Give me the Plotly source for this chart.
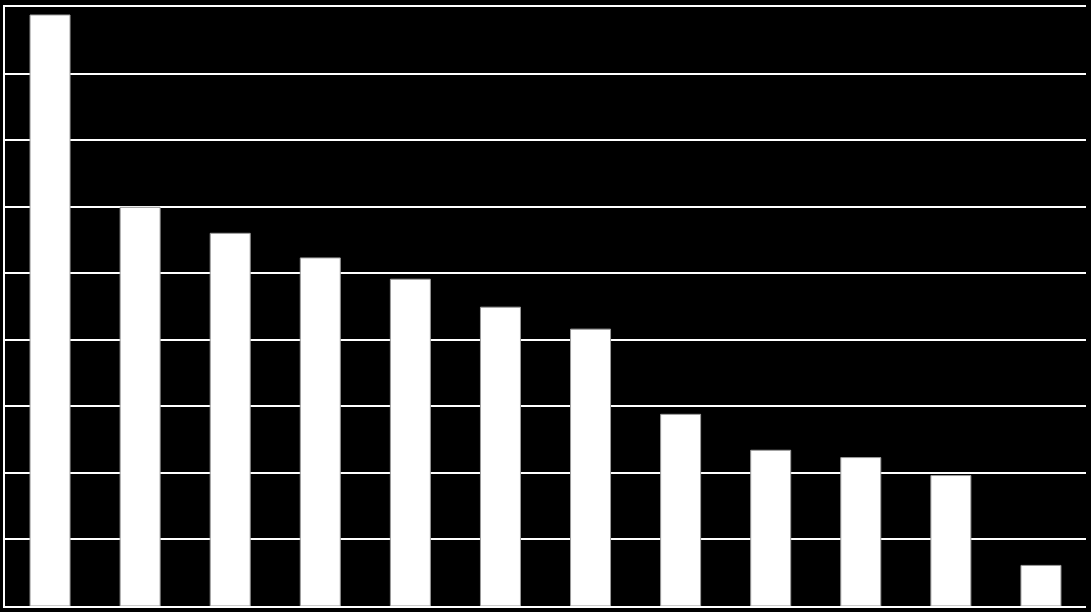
import plotly.graph_objects as go

categories = [f"C{i}" for i in range(1, 13)]
values = [8.88, 5.99, 5.60, 5.23, 4.91, 4.49, 4.16, 2.88, 2.34, 2.23, 1.96, 0.61]

fig = go.Figure(go.Bar(
    x=categories, y=values,
    marker=dict(color="white", line=dict(color="#9a9a9a", width=1)),
))
fig.update_layout(
    width=1091, height=612,
    margin=dict(l=5, r=5, t=5, b=6),
    paper_bgcolor="black", plot_bgcolor="black",
    bargap=0.556, showlegend=False,
)
fig.update_xaxes(showticklabels=False, showgrid=False, showline=True, mirror=True,
                 linecolor="white", linewidth=2, ticks="", zeroline=False)
fig.update_yaxes(range=[0, 9], dtick=1, showticklabels=False, showgrid=True,
                 gridcolor="white", gridwidth=2, showline=True, linecolor="white",
                 linewidth=2, zeroline=False, ticks="")
fig.write_html("out.html", config={"displayModeBar": False},
               post_script="document.body.style.margin='0';document.body.style.background='black';")
